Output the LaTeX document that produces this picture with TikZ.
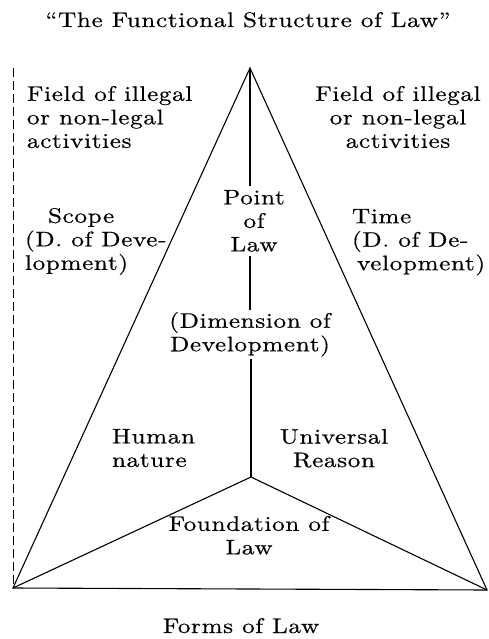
\documentclass[tikz,border=0pt]{standalone}
\usepackage{fontspec}
\setmainfont{lmroman10-regular}[Extension=.otf, FakeStretch=1.2, LetterSpace=3, FakeBold=0.5]
\begin{document}
\begin{tikzpicture}[x=1pt,y=-1pt,
  lbl/.style={inner sep=0pt, outer sep=0pt, font=\fontsize{21}{23.5}\selectfont, align=center, anchor=north,
    execute at begin node={\rule{0pt}{17pt}}},
  lblL/.style={lbl, align=left, anchor=north west},
  edge/.style={line width=1.1pt},
  limit/.style={line width=0.9pt, dash pattern=on 9pt off 4pt}]
\useasboundingbox (0,0) rectangle (488,639);
\coordinate (apex) at (250,68);
\coordinate (bl) at (13,588);
\coordinate (br) at (487,590);
\coordinate (in) at (251,477);
\coordinate (dtop) at (13,68);
\node[lbl] (title) at (248,10) {``The Functional Structure of Law''};
\node[lblL] (fl) at (27,86) {Field of illegal\\or non-legal\\activities};
\node[lbl] (fr) at (398,86) {Field of illegal\\or non-legal\\activities};
\node[lblL] (scope) at (25,208) {\hspace*{23pt}Scope\\(D. of Deve-\\lopment)};
\node[lblL] (time) at (352,209) {Time\\(D. of De-\\\hspace*{5pt}velopment)};
\node[lbl, outer ysep=4pt] (pt) at (254,186) {Point\\of\\Law};
\node[lbl, outer ysep=2pt] (dim) at (250,310) {(Dimension of\\Development)};
\node[lblL] (hum) at (112,429) {Human\\nature};
\node[lbl] (uni) at (334,429) {Universal\\Reason};
\node[lbl] (fou) at (249,516) {Foundation of\\Law};
\node[lbl] (forms) at (241,616) {Forms of Law};
\draw[edge] (bl) -- (apex) -- (br) -- cycle;
\draw[edge] (bl) -- (in) -- (br);
\draw[edge] (apex) -- (apex |- pt.north);
\draw[edge] (apex |- pt.south) -- (apex |- dim.north);
\draw[edge] (in |- dim.south) -- (in);
\draw[limit] (dtop) -- (bl);
\end{tikzpicture}
\end{document}
